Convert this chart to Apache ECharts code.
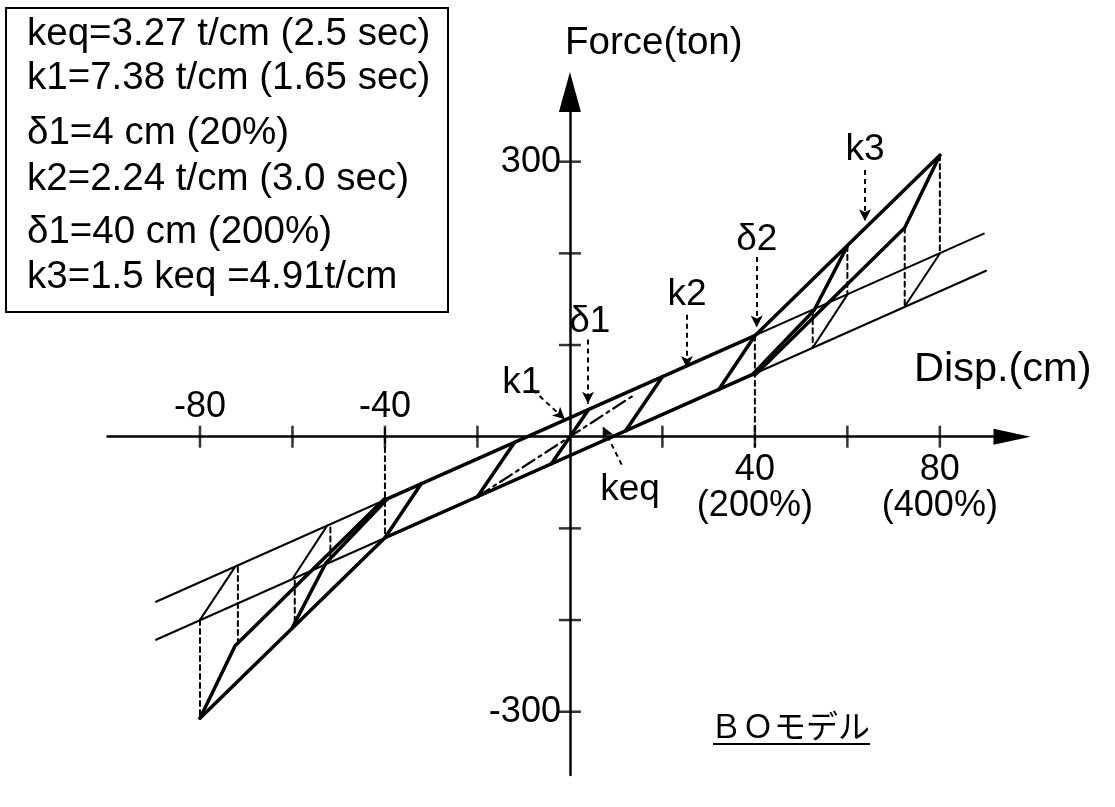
<!DOCTYPE html>
<html><head><meta charset="utf-8">
<script src="https://cdn.jsdelivr.net/npm/echarts@6/dist/echarts.min.js"></script>
<style>html,body{margin:0;padding:0;background:#fff}#c{width:1115px;height:807px}</style>
</head><body><div id="c"></div>
<script>
const FONT = '"Liberation Sans", Arial, Helvetica, sans-serif';

// ---- axis ticks and tick labels ----
const xTickValues = [-80, -60, -40, -20, 20, 40, 60, 80];
const yTickValues = [-300, -200, -100, 100, 200, 300];
const xLabelValuesNeg = [-80, -40];
const xLabelTextNeg = ['-80', '-40'];
const xLabelValuesPos = [40, 80];
const xLabelTextPos = ['40', '80'];
const xPercentText = ['(200%)', '(400%)'];
const yLabelValues = [300, -300];
const yLabelText = ['300', '-300'];

// ---- bilinear envelope (k2 lines, thin) ----
const upperEnvelope = [[-89.5, -180], [89.5, 221.5]];
const lowerEnvelope = [[-89.5, -221.5], [90, 181]];
// thin bilinear unloading / reloading at ±80 and ±60
const biUnload80 = [[80, 199.8], [72.4, 142]];
const biReload80 = [[-80, -199.8], [-72.4, -142]];
const biUnload60 = [[60, 155], [52.5, 97]];
const biReload60 = [[-60, -155], [-52.5, -97]];

// ---- BO model (bold) ----
const boUpper = [[-40, -69], [40, 110.2], [80, 307]];
const boLower = [[40, 69], [-40, -110.2], [-80, -307]];
const boUnload80 = [[80, 307], [72.4, 228], [40, 67.4]];
const boReload80 = [[-80, -307], [-72.4, -228], [-40, -67.4]];
const boUnload60 = [[60, 208], [52.8, 138], [39.5, 68]];
const boReload60 = [[-60, -208], [-52.8, -138], [-39.5, -68]];
const loop40Down = [[40, 110.2], [32.2, 51.5]];
const loop40Up = [[-40, -110.2], [-32.2, -51.5]];
const loop20Down = [[20, 65.4], [12, 6.3]];
const loop20Up = [[-20, -65.4], [-12, -6.3]];
const k1Line = [[-4, -29.5], [4, 29.5]];
const keqLine = [[-20, -65.4], [14, 45.8]];

// ---- dashed vertical drop lines ----
const dropX = [80, 72.4, 60, 52.5, -80, -71.8, -59.5, -51.8, 40, -40];
const dropTop = [307, 228, 208, 138, -200, -142, -157, -99, 110, 8];
const dropBottom = [199.8, 142, 155, 97, -307, -228, -203, -131, -11, -110];

// ---- annotations ----
const annoText = ['δ1', 'k1', 'k2', 'δ2', 'k3', 'keq'];
const annoLabelAt = [[4.3, 125], [-10.4, 59], [25.3, 155], [40.4, 215], [63.8, 313], [13, -58]];
const annoFrom = [[3.9, 106], [-8, 51], [25.3, 133], [40.4, 196], [63.8, 291], [11.2, -30.5]];
const annoTo = [[3.9, 36], [-1.1, 19], [25.3, 75], [40.4, 119], [63.8, 235], [7.1, 11]];

// ---- legend box text ----
const boxLines = [
  'keq=3.27 t/cm (2.5 sec)',
  'k1=7.38 t/cm (1.65 sec)',
  'δ1=4 cm (20%)',
  'k2=2.24 t/cm (3.0 sec)',
  'δ1=40 cm (200%)',
  'k3=1.5 keq =4.91t/cm'
];
const boxLineY = [34, 78, 133, 179, 232, 277];

const THIN = 2, BOLD = 3.5;
function seg(data, width, dash) {
  return { type: 'line', data: data, symbol: 'none', showSymbol: false, clip: false, silent: true,
    animation: false, lineStyle: { color: '#000', width: width, type: dash || 'solid', cap: 'round', join: 'round' }, z: 3 };
}

const series = [];
series.push(seg(upperEnvelope, THIN));
series.push(seg(lowerEnvelope, THIN));
[biUnload80, biReload80, biUnload60, biReload60].forEach(d => series.push(seg(d, THIN)));
[boUpper, boLower, boUnload80, boReload80, boUnload60, boReload60, loop40Down, loop40Up,
 loop20Down, loop20Up, k1Line].forEach(d => series.push(seg(d, BOLD)));
series.push(seg(keqLine, 2.2, [14, 5, 3, 5]));
dropX.forEach((x, i) => series.push(seg([[x, dropTop[i]], [x, dropBottom[i]]], 2, [5, 4])));

// ticks
series.push({ type: 'scatter', data: xTickValues.map(v => [v, 0]), symbol: 'rect', symbolSize: [2.5, 22],
  itemStyle: { color: '#000' }, silent: true, animation: false, z: 4 });
series.push({ type: 'scatter', data: yTickValues.map(v => [0, v]), symbol: 'rect', symbolSize: [22, 2.5],
  itemStyle: { color: '#000' }, silent: true, animation: false, z: 4 });

function labelSeries(points, texts, offset, align, size) {
  return { type: 'scatter', symbolSize: 1, itemStyle: { color: 'rgba(0,0,0,0)' }, silent: true, animation: false, clip: false, z: 5,
    data: points.map((p, i) => ({ value: p, label: { formatter: texts[i] } })),
    label: { show: true, position: 'inside', offset: offset, align: align || 'center', verticalAlign: 'middle',
      fontSize: size || 36, fontFamily: FONT, color: '#000', textBorderWidth: 0, textBorderColor: 'transparent',
      opacity: 1 } };
}
series.push(labelSeries(xLabelValuesNeg.map(v => [v, 0]), xLabelTextNeg, [0, -30]));
series.push(labelSeries(xLabelValuesPos.map(v => [v, 0]), xLabelTextPos, [0, 33]));
series.push(labelSeries(xLabelValuesPos.map(v => [v, 0]), xPercentText, [0, 69]));
series.push(labelSeries(yLabelValues.map(v => [0, v]), yLabelText, [-9, 0], 'right'));
series.push(labelSeries(annoLabelAt, annoText, [0, 0], 'center', 37));

// annotation arrows
series.push({ type: 'line', data: [], silent: true, animation: false,
  markLine: { silent: true, animation: false, symbol: ['none', 'arrow'], symbolSize: [9, 12],
    label: { show: false }, lineStyle: { color: '#000', width: 2, type: [5, 4] },
    data: annoFrom.map((f, i) => [{ coord: f }, { coord: annoTo[i] }]) } });

const graphic = [
  { type: 'rect', shape: { x: 6, y: 8, width: 442, height: 304 }, style: { fill: 'none', stroke: '#000', lineWidth: 2 } },
  ...boxLines.map((t, i) => ({ type: 'text', x: 27, y: boxLineY[i],
    style: { text: t, font: '38.5px ' + FONT, fill: '#000', verticalAlign: 'middle', align: 'left' } })),
  { type: 'text', x: 565, y: 43, style: { text: 'Force(ton)', font: '38.5px ' + FONT, fill: '#000', verticalAlign: 'middle' } },
  { type: 'text', x: 914, y: 370, style: { text: 'Disp.(cm)', font: '41.5px ' + FONT, fill: '#000', verticalAlign: 'middle' } },
  { type: 'text', x: 790, y: 726, style: { text: 'ＢＯモデル', font: '32px "Noto Sans CJK JP"', fill: '#000', verticalAlign: 'middle', align: 'center' } },
  { type: 'line', shape: { x1: 713, y1: 744, x2: 870, y2: 744 }, style: { stroke: '#000', lineWidth: 2 } }
];

const chart = echarts.init(document.getElementById('c'), null, { renderer: 'canvas' });
chart.setOption({
  animation: false,
  backgroundColor: '#fff',
  grid: { left: 107.5, top: 92, width: 904.5, height: 683, containLabel: false },
  xAxis: { type: 'value', min: -100, max: 95.6,
    axisLine: { onZero: true, symbol: ['none', 'triangle'], symbolSize: [16, 37], lineStyle: { color: '#000', width: 2.5 } },
    axisTick: { show: false }, axisLabel: { show: false }, splitLine: { show: false } },
  yAxis: { type: 'value', min: -369, max: 376,
    axisLine: { onZero: true, symbol: ['none', 'triangle'], symbolSize: [22, 40], lineStyle: { color: '#000', width: 2.5 } },
    axisTick: { show: false }, axisLabel: { show: false }, splitLine: { show: false } },
  series: series,
  graphic: graphic
});
</script></body></html>
